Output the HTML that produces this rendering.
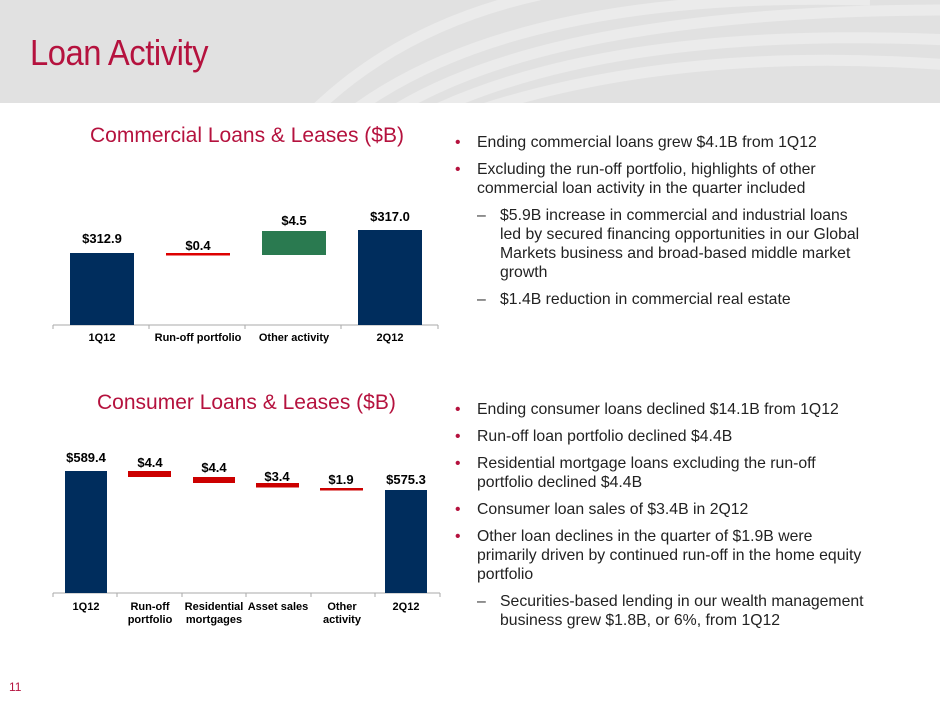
<!DOCTYPE html>
<html><head><style>
body{margin:0;width:940px;height:705px;background:#fff;font-family:"Liberation Sans",Arial,sans-serif;position:relative;overflow:hidden}
.hdr{position:absolute;left:0;top:0;width:940px;height:103px;background:#e1e1e1;overflow:hidden}
.t{position:absolute;left:30px;top:32px;font-size:36px;color:#b5123e;transform:scaleX(0.91);transform-origin:0 0;letter-spacing:-0.5px}
.ct{position:absolute;font-size:21px;color:#b5123e}
.b{position:absolute;left:455px;width:460px;font-size:15.8px;color:#222;line-height:19px;white-space:nowrap}
.b p{margin:0 0 8px 0;padding-left:22px;position:relative}
.b p:before{content:"•";position:absolute;left:0;color:#b5123e}
.b p.d{padding-left:45px}
.b p.d:before{content:"–";left:22px;color:#333}
svg text{font-family:"Liberation Sans",Arial,sans-serif;font-weight:bold;fill:#000}
</style></head><body>
<div class="hdr">
<svg width="940" height="103" style="position:absolute;left:0;top:0">
<g fill="none" stroke="#ebebeb" stroke-width="11">
<path d="M315 110 Q470 -40 780 -20"/><path d="M355 110 Q520 -10 870 0"/><path d="M395 110 Q560 10 950 10"/><path d="M435 110 Q620 25 950 40"/><path d="M480 110 Q680 45 950 65"/>
</g></svg>
<div class="t">Loan Activity</div></div>
<div class="ct" style="left:90px;top:124px">Commercial Loans &amp; Leases ($B)</div>
<div class="ct" style="left:97px;top:391px">Consumer Loans &amp; Leases ($B)</div>
<svg width="940" height="705" style="position:absolute;left:0;top:0">
<line x1="53" y1="325" x2="438" y2="325" stroke="#aaa"/>
<g stroke="#aaa"><line x1="53" y1="325" x2="53" y2="329"/><line x1="149" y1="325" x2="149" y2="329"/><line x1="245" y1="325" x2="245" y2="329"/><line x1="341" y1="325" x2="341" y2="329"/><line x1="438" y1="325" x2="438" y2="329"/></g>
<rect x="70" y="253" width="64" height="72" fill="#002d5d"/>
<rect x="166" y="253" width="64" height="2.5" fill="#d00"/>
<rect x="262" y="231" width="64" height="24" fill="#2a7a50"/>
<rect x="358" y="230" width="64" height="95" fill="#002d5d"/>
<g font-size="13" text-anchor="middle"><text x="102" y="243">$312.9</text><text x="198" y="250">$0.4</text><text x="294" y="225">$4.5</text><text x="390" y="221">$317.0</text></g>
<g font-size="11" text-anchor="middle"><text x="102" y="341">1Q12</text><text x="198" y="341">Run-off portfolio</text><text x="294" y="341">Other activity</text><text x="390" y="341">2Q12</text></g>
<line x1="53" y1="593" x2="440" y2="593" stroke="#aaa"/>
<g stroke="#aaa"><line x1="53" y1="593" x2="53" y2="597"/><line x1="117" y1="593" x2="117" y2="597"/><line x1="182" y1="593" x2="182" y2="597"/><line x1="246" y1="593" x2="246" y2="597"/><line x1="311" y1="593" x2="311" y2="597"/><line x1="375" y1="593" x2="375" y2="597"/><line x1="440" y1="593" x2="440" y2="597"/></g>
<rect x="65" y="471" width="42" height="122" fill="#002d5d"/>
<rect x="128" y="471" width="43" height="6" fill="#c00"/>
<rect x="193" y="477" width="42" height="6" fill="#c00"/>
<rect x="256" y="483" width="43" height="4.5" fill="#c00"/>
<rect x="320" y="488" width="43" height="2.5" fill="#c00"/>
<rect x="385" y="490" width="42" height="103" fill="#002d5d"/>
<g font-size="13" text-anchor="middle"><text x="86" y="462">$589.4</text><text x="150" y="467">$4.4</text><text x="214" y="472">$4.4</text><text x="277" y="481">$3.4</text><text x="341" y="484">$1.9</text><text x="406" y="484">$575.3</text></g>
<g font-size="11" text-anchor="middle"><text x="86" y="610">1Q12</text><text x="150" y="610">Run-off</text><text x="150" y="623">portfolio</text><text x="214" y="610">Residential</text><text x="214" y="623">mortgages</text><text x="278" y="610">Asset sales</text><text x="342" y="610">Other</text><text x="342" y="623">activity</text><text x="406" y="610">2Q12</text></g>
</svg>
<div class="b" style="top:133px">
<p>Ending commercial loans grew $4.1B from 1Q12</p>
<p>Excluding the run-off portfolio, highlights of other<br>commercial loan activity in the quarter included</p>
<p class="d">$5.9B increase in commercial and industrial loans<br>led by secured financing opportunities in our Global<br>Markets business and broad-based middle market<br>growth</p>
<p class="d">$1.4B reduction in commercial real estate</p>
</div>
<div class="b" style="top:400px">
<p>Ending consumer loans declined $14.1B from 1Q12</p>
<p>Run-off loan portfolio declined $4.4B</p>
<p>Residential mortgage loans excluding the run-off<br>portfolio declined $4.4B</p>
<p>Consumer loan sales of $3.4B in 2Q12</p>
<p>Other loan declines in the quarter of $1.9B were<br>primarily driven by continued run-off in the home equity<br>portfolio</p>
<p class="d">Securities-based lending in our wealth management<br>business grew $1.8B, or 6%, from 1Q12</p>
</div>
<div style="position:absolute;left:9px;top:680px;font-size:12px;color:#b5123e">11</div>
</body></html>
